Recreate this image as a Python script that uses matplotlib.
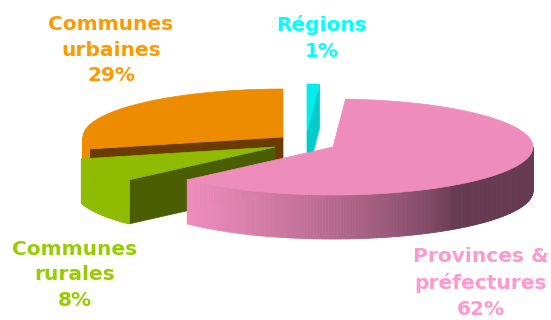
import numpy as np
import matplotlib.pyplot as plt
from matplotlib.collections import PolyCollection
from matplotlib.colors import to_rgb

# données
categories = ['Régions', 'Provinces &\npréfectures', 'Communes\nrurales', 'Communes\nurbaines']
shares = [1, 62, 8, 29]

# style par part
top_colors = ['#00eeee', '#ee8cbb', '#8fbb00', '#ee8c00']
dark_colors = ['#00cccc', '#663a50', '#4a5e00', '#6b3c00']
text_colors = ['#00ffff', '#ff99cc', '#99cc00', '#ff9900']
centers = [(307, 132), (333, 147), (275, 147), (283, 137)]   # parts éclatées
label_pos = [(322, 38), (481, 283), (75, 275), (111, 50)]
draw_order = [3, 2, 0, 1]

RX, RY, DEPTH = 200, 48, 44

plt.rcParams['font.family'] = ['DejaVu Sans']

fig = plt.figure(figsize=(5.51, 3.20), dpi=100)
ax = fig.add_axes([0, 0, 1, 1])
ax.set_xlim(0, 551)
ax.set_ylim(320, 0)
ax.axis('off')

# angles (sens horaire depuis midi)
fracs = np.array(shares, dtype=float) / np.sum(shares)
bounds = np.concatenate([[0], np.cumsum(fracs)]) * 2 * np.pi


def rim(cx, cy, t):
    return cx + RX * np.sin(t), cy - RY * np.cos(t)


def blend(c1, c2, s):
    a, b = np.array(to_rgb(c1)), np.array(to_rgb(c2))
    return tuple(a + (b - a) * s)


for i in draw_order:
    t1, t2 = bounds[i], bounds[i + 1]
    cx, cy = centers[i]
    light, dark = top_colors[i], dark_colors[i]

    # faces coupées visibles
    for t, nrm in ((t1, t1 - np.pi / 2), (t2, t2 + np.pi / 2)):
        if np.cos(nrm) < -1e-6:
            x, y = rim(cx, cy, t)
            poly = [(cx, cy), (x, y), (x, y + DEPTH), (cx, cy + DEPTH)]
            ax.add_patch(plt.Polygon(poly, closed=True, fc=dark, ec=dark, lw=0.5))

    # paroi extérieure (dégradé)
    lo, hi = max(t1, np.pi / 2), min(t2, 3 * np.pi / 2)
    if hi > lo:
        ts = np.linspace(lo, hi, 160)
        polys, cols = [], []
        for a, b in zip(ts[:-1], ts[1:]):
            xa, ya = rim(cx, cy, a)
            xb, yb = rim(cx, cy, b)
            polys.append([(xa, ya), (xb, yb), (xb, yb + DEPTH), (xa, ya + DEPTH)])
            nx = np.sin((a + b) / 2)
            s = np.clip((0.6 - nx) / 1.3, 0, 1) ** 0.7
            cols.append(blend(dark, light, s))
        ax.add_collection(PolyCollection(polys, facecolors=cols, edgecolors=cols, linewidths=0.6))

    # dessus
    ts = np.linspace(t1, t2, max(3, int(200 * fracs[i])))
    pts = [(cx, cy)] + [rim(cx, cy, t) for t in ts]
    ax.add_patch(plt.Polygon(pts, closed=True, fc=light, ec=light, lw=0.5))

# étiquettes
for i, cat in enumerate(categories):
    ax.text(label_pos[i][0], label_pos[i][1], f'{cat}\n{shares[i]}%',
            ha='center', va='center', multialignment='center',
            color=text_colors[i], fontsize=14.5, fontweight='bold', linespacing=1.42)

fig.savefig('out.png', dpi=100)
